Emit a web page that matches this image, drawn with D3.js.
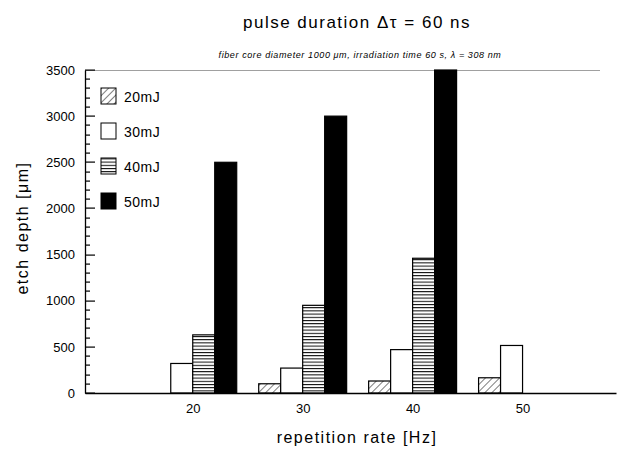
<!DOCTYPE html>
<html>
<head>
<meta charset="utf-8">
<script src="https://cdn.jsdelivr.net/npm/d3@7"></script>
<style>
  body { margin: 0; background: #fff; }
  text { font-family: "Liberation Sans", "DejaVu Sans", sans-serif; fill: #000; }
</style>
</head>
<body>
<div id="chart"></div>
<script>
// Data (etch depth in µm)
var rates = [20, 30, 40, 50];
var energies = ["20mJ", "30mJ", "40mJ", "50mJ"];
var depth20mJ = [null, 100, 130, 165];
var depth30mJ = [320, 270, 470, 515];
var depth40mJ = [630, 950, 1460, null];
var depth50mJ = [2500, 3000, 3500, null];
var yTicks = [0, 500, 1000, 1500, 2000, 2500, 3000, 3500];
var xTicks = [20, 30, 40, 50];

var seriesValues = [depth20mJ, depth30mJ, depth40mJ, depth50mJ];

var svg = d3.select("#chart").append("svg")
  .attr("width", 626)
  .attr("height", 450);

var x = d3.scaleLinear().domain([10.2, 58.5]).range([85, 616]);
var y = d3.scaleLinear().domain([0, 3500]).range([393, 70]);

// patterns
var defs = svg.append("defs");
var hatch = defs.append("pattern")
  .attr("id", "hatch")
  .attr("patternUnits", "userSpaceOnUse")
  .attr("width", 5).attr("height", 5)
  .attr("patternTransform", "rotate(45)");
hatch.append("rect").attr("width", 5).attr("height", 5).attr("fill", "#fff");
hatch.append("line").attr("x1", 0).attr("y1", 0).attr("x2", 0).attr("y2", 5)
  .attr("stroke", "#000").attr("stroke-width", 1);

var horiz = defs.append("pattern")
  .attr("id", "horiz")
  .attr("patternUnits", "userSpaceOnUse")
  .attr("width", 6).attr("height", 3.2);
horiz.append("rect").attr("width", 6).attr("height", 3.2).attr("fill", "#fff");
horiz.append("line").attr("x1", 0).attr("y1", 0.5).attr("x2", 6).attr("y2", 0.5)
  .attr("stroke", "#000").attr("stroke-width", 1);

var fills = ["url(#hatch)", "#fff", "url(#horiz)", "#000"];

// title
svg.append("text")
  .attr("x", 357).attr("y", 28)
  .attr("text-anchor", "middle")
  .style("font-size", "17px")
  .style("letter-spacing", "1.5px")
  .text("pulse duration \u0394\u03c4 = 60 ns");

svg.append("text")
  .attr("x", 360).attr("y", 58)
  .attr("text-anchor", "middle")
  .style("font-size", "9px")
  .style("font-style", "italic")
  .style("letter-spacing", "0.6px")
  .text("fiber core diameter 1000 \u03bcm, irradiation time 60 s, \u03bb = 308 nm");

// top border line (faint)
svg.append("line")
  .attr("x1", x.range()[0]).attr("x2", 600)
  .attr("y1", y(3500) + 0.5).attr("y2", y(3500) + 0.5)
  .attr("stroke", "#888").attr("stroke-width", 0.8);

// bars
var groupWidth = x(28) - x(20);
var sub = d3.scaleBand().domain(energies).range([0, groupWidth]);

energies.forEach(function (e, i) {
  var vals = seriesValues[i];
  var data = rates.map(function (r, j) { return { rate: r, value: vals[j] }; })
    .filter(function (d) { return d.value != null; });
  svg.append("g").selectAll("rect")
    .data(data)
    .enter()
    .append("rect")
    .attr("x", function (d) { return x(d.rate) - groupWidth / 2 + sub(e); })
    .attr("y", function (d) { return y(d.value); })
    .attr("width", sub.bandwidth())
    .attr("height", function (d) { return y(0) - y(d.value); })
    .attr("fill", fills[i])
    .attr("stroke", "#000")
    .attr("stroke-width", 1.2);
});

// y axis labels + domain line
var x0 = x.range()[0];
var yAxis = svg.append("g")
  .attr("transform", "translate(" + x0 + ",0)")
  .call(d3.axisLeft(y).tickValues(yTicks).tickSize(0).tickPadding(10).tickFormat(d3.format("d")));
yAxis.selectAll("text").style("font-size", "13px");
yAxis.select(".domain").attr("stroke-width", 1.3);

// inward ticks as thin filled rects: minor every 100, major every 500
svg.append("g").selectAll("rect")
  .data(y.ticks(35))
  .enter()
  .append("rect")
  .attr("x", x0)
  .attr("y", function (d) { return Math.round(y(d)) - 0.5; })
  .attr("width", function (d) { return d % 500 === 0 ? 10 : 5; })
  .attr("height", 1.2)
  .attr("fill", "#000");

// x axis: baseline, labels only
var xAxis = svg.append("g")
  .attr("transform", "translate(0," + y(0) + ")")
  .call(d3.axisBottom(x).tickValues(xTicks).tickSize(0).tickPadding(11).tickFormat(d3.format("d")));
xAxis.selectAll("text").style("font-size", "13px");
xAxis.select(".domain").attr("stroke-width", 1.3);

// axis titles
svg.append("text")
  .attr("transform", "translate(28,228) rotate(-90)")
  .attr("text-anchor", "middle")
  .style("font-size", "16px")
  .style("letter-spacing", "1.5px")
  .text("etch depth [\u03bcm]");

svg.append("text")
  .attr("x", 357).attr("y", 443)
  .attr("text-anchor", "middle")
  .style("font-size", "16px")
  .style("letter-spacing", "1.5px")
  .text("repetition rate [Hz]");

// legend
var legend = svg.append("g").attr("transform", "translate(101,88)");
energies.forEach(function (e, i) {
  legend.append("rect")
    .attr("x", 0).attr("y", i * 35)
    .attr("width", 15).attr("height", 16)
    .attr("fill", fills[i])
    .attr("stroke", "#000")
    .attr("stroke-width", 1);
  legend.append("text")
    .attr("x", 23).attr("y", i * 35 + 14)
    .style("font-size", "14px")
    .style("letter-spacing", "0.5px")
    .text(e);
});
</script>
</body>
</html>
